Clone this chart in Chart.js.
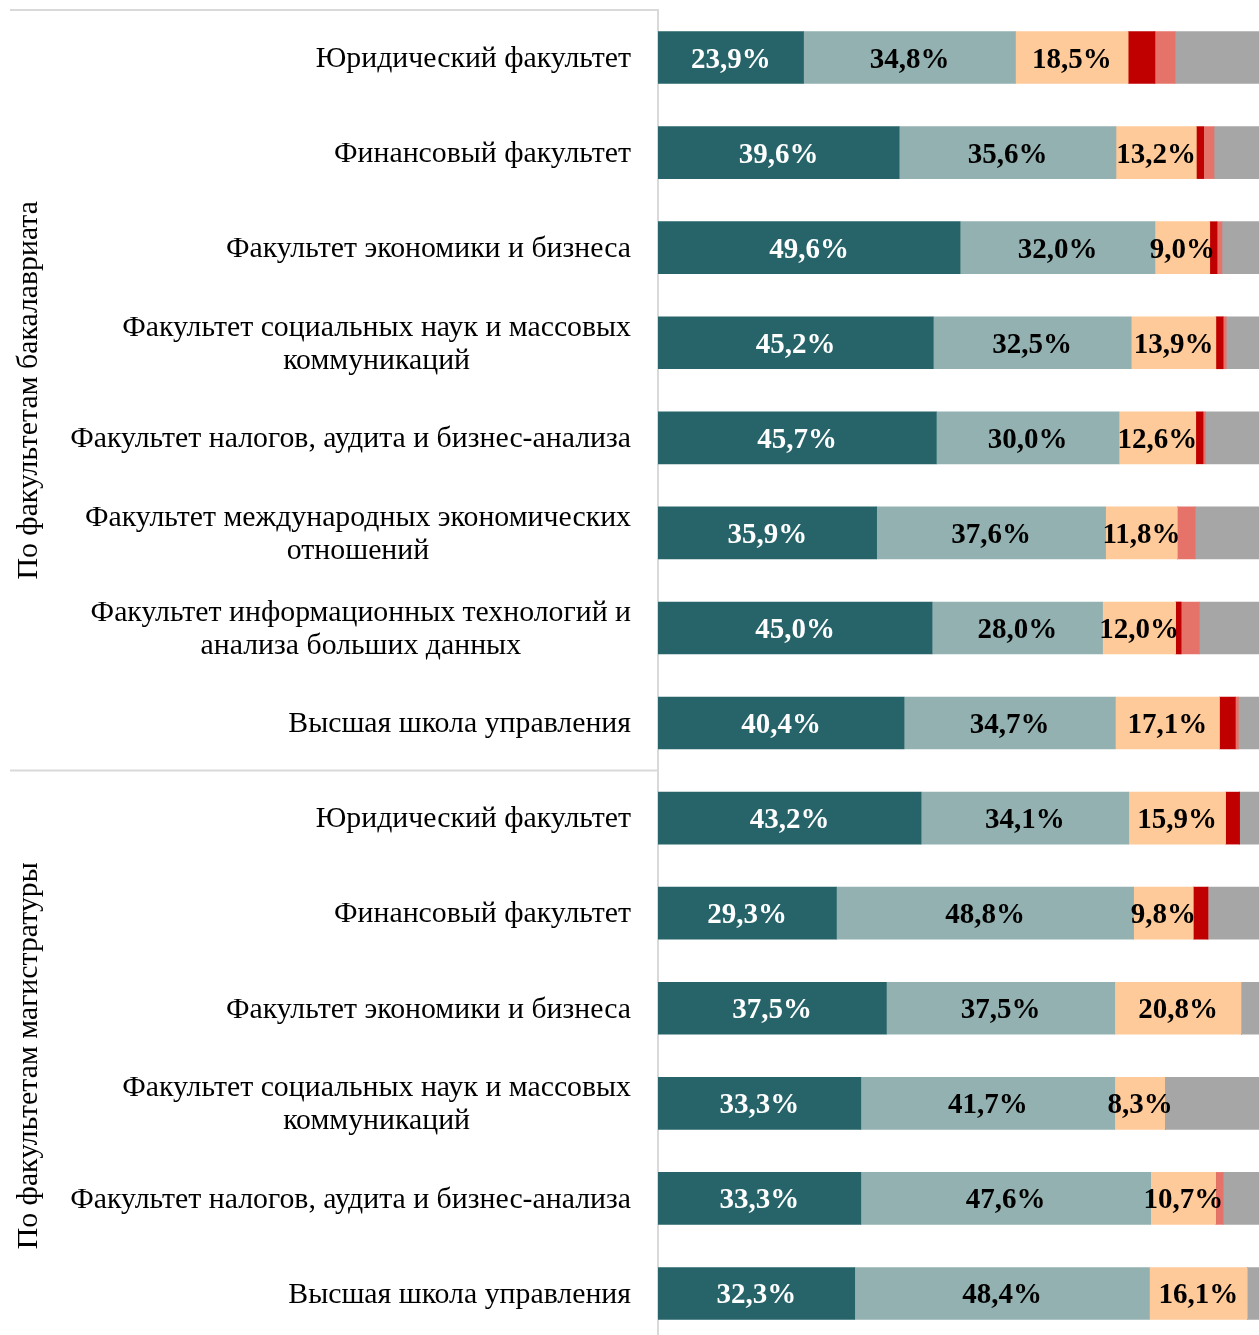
<!DOCTYPE html>
<html>
<head>
<meta charset="utf-8">
<script src="https://cdn.jsdelivr.net/npm/chart.js@4.4.1/dist/chart.umd.min.js"></script>
<style>
    html, body { margin: 0; padding: 0; background: #fff; overflow: hidden; }
    #chart { display: block; }
</style>
</head>
<body>
<canvas id="chart" width="1267" height="1341"></canvas>
<script>
// категории (многострочные подписи как массивы)
const categories = [
    ['Юридический факультет'],
    ['Финансовый факультет'],
    ['Факультет экономики и бизнеса'],
    ['Факультет социальных наук и массовых', 'коммуникаций'],
    ['Факультет налогов, аудита и бизнес-анализа'],
    ['Факультет международных экономических', 'отношений'],
    ['Факультет информационных технологий и', 'анализа больших данных'],
    ['Высшая школа управления'],
    ['Юридический факультет'],
    ['Финансовый факультет'],
    ['Факультет экономики и бизнеса'],
    ['Факультет социальных наук и массовых', 'коммуникаций'],
    ['Факультет налогов, аудита и бизнес-анализа'],
    ['Высшая школа управления']
];
const groupNames = ['По факультетам бакалавриата', 'По факультетам магистратуры'];
const groupSizes = [8, 6];

const seriesNames = ['Ряд 1', 'Ряд 2', 'Ряд 3', 'Ряд 4', 'Ряд 5', 'Ряд 6'];
const s1 = [23.9, 39.6, 49.6, 45.2, 45.7, 35.9, 45.0, 40.4, 43.2, 29.3, 37.5, 33.3, 33.3, 32.3];
const s2 = [34.8, 35.6, 32.0, 32.5, 30.0, 37.6, 28.0, 34.7, 34.1, 48.8, 37.5, 41.7, 47.6, 48.4];
const s3 = [18.5, 13.2, 9.0, 13.9, 12.6, 11.8, 12.0, 17.1, 15.9, 9.8, 20.8, 8.3, 10.7, 16.1];
const s4 = [4.4, 1.2, 1.2, 1.2, 1.2, 0, 0.9, 2.6, 2.3, 2.4, 0, 0, 0, 0];
const s5 = [3.3, 1.7, 0.8, 0.5, 0.4, 2.9, 3.0, 0.5, 0, 0, 0, 0, 1.2, 0];
const s6 = [15.1, 8.7, 7.4, 6.7, 10.1, 11.8, 11.1, 4.7, 4.5, 9.7, 4.2, 16.7, 7.2, 3.2];

const colors = ['#26646a', '#93b1b1', '#ffca99', '#c00000', '#e5736a', '#a6a6a6'];
const labelColors = ['#ffffff', '#000000', '#000000'];
const FONT = '"Liberation Serif", serif';

// подписи категорий, группы и разделители
const leftLabels = {
    id: 'leftLabels',
    afterDraw(chart) {
        const ctx = chart.ctx;
        const yScale = chart.scales.y;
        const area = chart.chartArea;
        ctx.save();
        ctx.font = '29.8px ' + FONT;
        ctx.fillStyle = '#000';
        ctx.textBaseline = 'middle';
        ctx.textAlign = 'center';
        const right = 631;
        const lh = 33;
        categories.forEach((lines, i) => {
            const y = yScale.getPixelForTick(i) + 1.5;
            const maxW = Math.max(...lines.map(l => ctx.measureText(l).width));
            const cx = right - maxW / 2;
            const y0 = y - (lines.length - 1) * lh / 2;
            lines.forEach((l, k) => ctx.fillText(l, cx, y0 + k * lh));
        });

        // разделители
        ctx.strokeStyle = '#d9d9d9';
        ctx.lineWidth = 2;
        let start = 0;
        const lineYs = [area.top];
        groupSizes.forEach((n, g) => {
            const yA = yScale.getPixelForTick(start);
            const yB = yScale.getPixelForTick(start + n - 1);
            ctx.save();
            ctx.translate(29, (yA + yB) / 2);
            ctx.rotate(-Math.PI / 2);
            ctx.fillText(groupNames[g], 0, 0);
            ctx.restore();
            start += n;
            if (start < categories.length) {
                lineYs.push((yScale.getPixelForTick(start - 1) + yScale.getPixelForTick(start)) / 2);
            }
        });
        lineYs.forEach(y => {
            ctx.beginPath();
            ctx.moveTo(10, y);
            ctx.lineTo(area.left, y);
            ctx.stroke();
        });
        ctx.restore();
    }
};

// подписи значений на первых трёх рядах
const valueLabels = {
    id: 'valueLabels',
    afterDatasetsDraw(chart) {
        const ctx = chart.ctx;
        ctx.save();
        ctx.font = 'bold 29px ' + FONT;
        ctx.textAlign = 'center';
        ctx.textBaseline = 'middle';
        for (let d = 0; d < 3; d++) {
            const meta = chart.getDatasetMeta(d);
            ctx.fillStyle = labelColors[d];
            meta.data.forEach((bar, i) => {
                const v = chart.data.datasets[d].data[i];
                if (!v) return;
                const txt = v.toFixed(1).replace('.', ',') + '%';
                ctx.fillText(txt, (bar.x + bar.base) / 2, bar.y + 2.5);
            });
        }
        ctx.restore();
    }
};

const allSeries = [s1, s2, s3, s4, s5, s6];

new Chart(document.getElementById('chart'), {
    type: 'bar',
    data: {
        labels: categories.map(c => c.join(' ')),
        datasets: allSeries.map((s, i) => ({
            label: seriesNames[i],
            data: s,
            backgroundColor: colors[i],
            borderWidth: 0,
            barThickness: 52
        }))
    },
    options: {
        indexAxis: 'y',
        responsive: false,
        animation: false,
        devicePixelRatio: 1,
        layout: { padding: { top: 10, left: 0, right: 0, bottom: 0 } },
        plugins: {
            legend: { display: false },
            tooltip: { enabled: false }
        },
        scales: {
            x: {
                stacked: true,
                min: 0,
                max: 100,
                display: false
            },
            y: {
                stacked: true,
                grid: { display: false, drawTicks: false },
                border: { display: true, color: '#d9d9d9', width: 2 },
                ticks: { display: false },
                afterFit(scale) { scale.width = 658; }
            }
        }
    },
    plugins: [leftLabels, valueLabels]
});
</script>
</body>
</html>
